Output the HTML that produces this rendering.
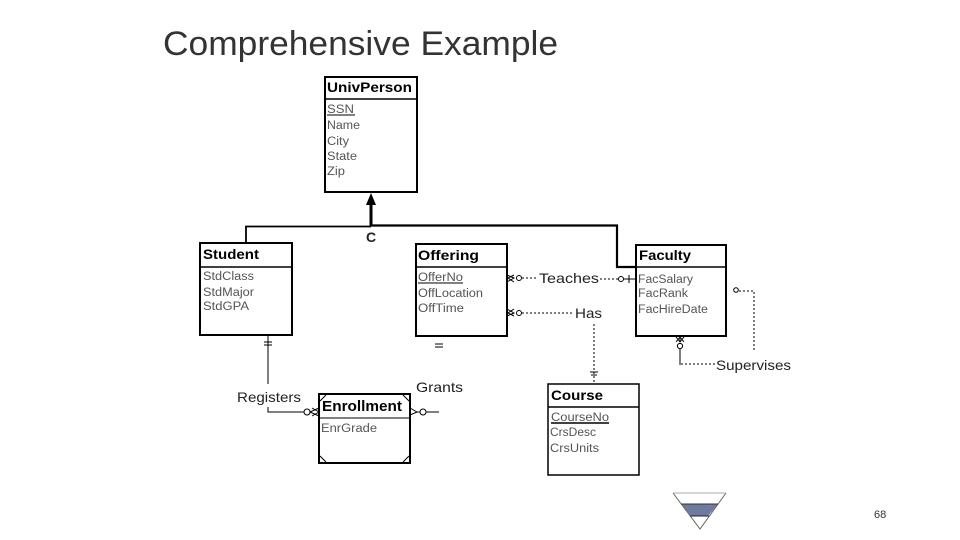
<!DOCTYPE html>
<html><head><meta charset="utf-8"><style>
html,body{margin:0;padding:0;background:#fff}
svg{display:block}
text{font-family:"Liberation Sans",sans-serif;fill:#111}
.t{font-size:13.5px;font-weight:bold;fill:#000}
.a{font-size:11.5px;fill:#555}
.l{font-size:14px;fill:#222}
.b{fill:#fff;stroke:#000;stroke-width:2}
.h{stroke:#000;stroke-width:1.5;fill:none}
.n{stroke:#000;stroke-width:1;fill:none}
.d{stroke:#000;stroke-width:1;fill:none;stroke-dasharray:2 2}
.c{fill:#fff;stroke:#000;stroke-width:1}
</style></head><body>
<svg width="960" height="540" viewBox="0 0 960 540" xmlns="http://www.w3.org/2000/svg">
<text x="163" y="55" style="font-size:34px;fill:#333" textLength="395" lengthAdjust="spacingAndGlyphs">Comprehensive Example</text>

<!-- generalization lines -->
<path d="M371 226V200" stroke="#000" stroke-width="3" fill="none"/>
<path d="M371 193L366 205H376Z" fill="#000"/>
<path d="M246 243V226.500H371" fill="none" stroke="#000" stroke-width="1.8"/>
<path d="M371 225.500H617V267H636" fill="none" stroke="#000" stroke-width="2.2"/>
<text x="366" y="242" style="font-size:14px;font-weight:bold;fill:#222">C</text>

<!-- UnivPerson -->
<rect class="b" x="325" y="77" width="92" height="115"/>
<path class="h" d="M325 99H417"/>
<text class="t" x="327" y="92" textLength="85" lengthAdjust="spacingAndGlyphs">UnivPerson</text>
<text class="a" x="327" y="113" textLength="27" lengthAdjust="spacingAndGlyphs">SSN</text>
<path class="n" d="M327 115H355"/>
<text class="a" x="327" y="129" textLength="33" lengthAdjust="spacingAndGlyphs">Name</text>
<text class="a" x="327" y="145" textLength="22" lengthAdjust="spacingAndGlyphs">City</text>
<text class="a" x="327" y="160" textLength="30" lengthAdjust="spacingAndGlyphs">State</text>
<text class="a" x="327" y="175" textLength="18" lengthAdjust="spacingAndGlyphs">Zip</text>

<!-- Student -->
<rect class="b" x="200" y="243" width="92" height="92"/>
<path class="h" d="M200 267H292"/>
<text class="t" x="203" y="259" textLength="56" lengthAdjust="spacingAndGlyphs">Student</text>
<text class="a" x="203" y="280" textLength="51" lengthAdjust="spacingAndGlyphs">StdClass</text>
<text class="a" x="203" y="296" textLength="51" lengthAdjust="spacingAndGlyphs">StdMajor</text>
<text class="a" x="203" y="310" textLength="46" lengthAdjust="spacingAndGlyphs">StdGPA</text>

<!-- Offering -->
<rect class="b" x="416" y="244" width="91" height="92"/>
<path class="h" d="M416 267H507"/>
<text class="t" x="418" y="260" textLength="61" lengthAdjust="spacingAndGlyphs">Offering</text>
<text class="a" x="418" y="281" textLength="45" lengthAdjust="spacingAndGlyphs">OfferNo</text>
<path class="n" d="M418 283H463"/>
<text class="a" x="418" y="297" textLength="65" lengthAdjust="spacingAndGlyphs">OffLocation</text>
<text class="a" x="418" y="312" textLength="46" lengthAdjust="spacingAndGlyphs">OffTime</text>

<!-- Faculty -->
<rect class="b" x="636" y="245" width="90" height="91"/>
<path class="h" d="M636 267H726"/>
<text class="t" x="639" y="260" textLength="52" lengthAdjust="spacingAndGlyphs">Faculty</text>
<text class="a" x="638" y="283" textLength="55" lengthAdjust="spacingAndGlyphs">FacSalary</text>
<text class="a" x="638" y="297" textLength="50" lengthAdjust="spacingAndGlyphs">FacRank</text>
<text class="a" x="638" y="313" textLength="70" lengthAdjust="spacingAndGlyphs">FacHireDate</text>

<!-- Enrollment -->
<rect class="b" x="319" y="394" width="91" height="69"/>
<path class="n" d="M319 418H410"/>
<path class="n" d="M320 401L326 395M403 395L409 401M320 456L326 462M403 462L409 456"/>
<text class="t" x="322" y="411" textLength="80" lengthAdjust="spacingAndGlyphs" style="font-size:14.500px">Enrollment</text>
<text class="a" x="321" y="432" textLength="56" lengthAdjust="spacingAndGlyphs">EnrGrade</text>

<!-- Course -->
<rect class="b" x="548" y="384" width="91" height="91" style="stroke-width:1.5"/>
<path class="h" d="M548 407H639"/>
<text class="t" x="551" y="400" textLength="52" lengthAdjust="spacingAndGlyphs">Course</text>
<text class="a" x="551" y="421" textLength="58" lengthAdjust="spacingAndGlyphs">CourseNo</text>
<path class="h" d="M551 423H609"/>
<text class="a" x="550" y="436" textLength="46" lengthAdjust="spacingAndGlyphs">CrsDesc</text>
<text class="a" x="550" y="452" textLength="49" lengthAdjust="spacingAndGlyphs">CrsUnits</text>

<!-- Teaches -->
<path class="n" d="M507 275L514 278L507 282M514 275L508 278L514 282"/>
<circle class="c" cx="519" cy="278" r="2.500"/>
<path class="d" d="M522 278H538"/>
<text class="l" x="539" y="283" textLength="60" lengthAdjust="spacingAndGlyphs">Teaches</text>
<path class="d" d="M600 279H618"/>
<circle class="c" cx="621" cy="279" r="2.500"/>
<path class="n" d="M624 279H636M629 275V283"/>

<!-- Has -->
<path class="n" d="M507 309L514 313L507 316M514 309L508 313L514 316"/>
<circle class="c" cx="519" cy="313" r="2.500"/>
<path class="d" d="M522 313H574"/>
<text class="l" x="575" y="318" textLength="27" lengthAdjust="spacingAndGlyphs">Has</text>
<path class="d" d="M594 324V384"/>
<path class="n" d="M590 372H598M591 375H597"/>

<!-- Supervises -->
<circle cx="736" cy="290" r="2.300" fill="#fff" stroke="#000"/>
<path class="d" d="M739 291H754V352"/>
<path class="n" d="M676 337L680 342L684 337M680 337V342M676 342L680 337L684 342"/>
<circle class="c" cx="680" cy="346" r="2.600"/>
<path class="n" d="M680 349V365"/>
<path class="d" d="M681 364H715"/>
<text class="l" x="716" y="370" textLength="75" lengthAdjust="spacingAndGlyphs">Supervises</text>

<!-- Registers -->
<path class="n" d="M268 335V384M264 342H272M264 345H272"/>
<text class="l" x="237" y="402" textLength="64" lengthAdjust="spacingAndGlyphs">Registers</text>
<path class="n" d="M268 407V412H304"/>
<circle class="c" cx="307" cy="412" r="3"/>
<path class="n" d="M310 412L319 408M310 412L319 416M312 408L319 412L312 416"/>

<!-- Grants -->
<text class="l" x="416" y="392" textLength="47" lengthAdjust="spacingAndGlyphs">Grants</text>
<path class="n" d="M410 408L417 412L410 415M417 412H420"/>
<circle class="c" cx="423" cy="412" r="3"/>
<path class="n" d="M426 412H439"/>
<path class="n" d="M435 344H443M435 347H443"/>

<!-- funnel -->
<path d="M673 493H726L700 529Z" fill="#fff"/>
<path d="M681 504H718L708 516H691Z" fill="#6e7a9f"/>
<path d="M673 493L700 529L726 493" fill="none" stroke="#666" stroke-width="1"/>
<path d="M673 493H726" stroke="#aaa" stroke-width="1"/>
<path d="M681 504H718" stroke="#333" stroke-width="1"/>
<path d="M690 516H709" stroke="#222" stroke-width="1"/>

<text x="874" y="518" style="font-size:11px;fill:#333">68</text>
</svg>
</body></html>
